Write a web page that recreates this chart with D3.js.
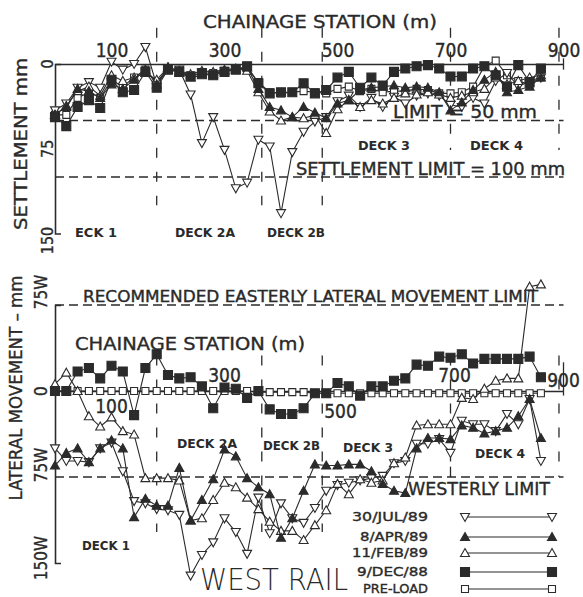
<!DOCTYPE html>
<html><head><meta charset="utf-8">
<script src="https://cdn.jsdelivr.net/npm/d3@7"></script>
<style>
html,body{margin:0;padding:0;background:#fff;}
svg{display:block;}
text{font-family:"DejaVu Sans Condensed","DejaVu Sans",sans-serif;fill:#2a2a2a;font-stretch:condensed;stroke:#2a2a2a;stroke-width:0.35px;}
</style></head><body>
<svg id="c" width="583" height="597"></svg>
<script>
// ---------- DATA ----------
const stations=[0,20,40,60,80,100,120,140,160,180,200,220,240,260,280,300,320,340,360,380,400,420,440,460,480,500,520,540,560,580,600,620,640,660,680,700,720,740,760,780,800,820,840,860];
const seriesNames=["30/JUL/89","8/APR/89","11/FEB/89","9/DEC/88","PRE-LOAD"];
const xTicks=[100,300,500,700,900];
const deckBounds=[180,366,473,700,892];
// settlement (mm, positive = down)
const settleJul89=[41,35,21,16,21,-2,5,0,-15,19,4,5,27,70,47,76,110,105,67,73,132,78,60,51,47,33,28,38,30,38,29,35,28,26,28,36,38,30,35,15,8,20,15,12];
const settleApr89=[45,38,22,24,30,18,22,14,5,18,3,8,12,10,9,6,5,3,22,38,41,47,38,43,48,35,32,23,21,20,19,21,20,21,25,41,34,23,14,7,25,23,20,12];
const settleFeb89=[45,37,24,20,28,10,15,12,8,14,3,6,9,6,7,5,4,6,25,42,50,47,48,45,61,40,32,38,32,35,30,26,27,25,27,30,28,25,22,12,18,15,12,10];
const settleDec88=[47,55,38,32,39,14,25,23,7,21,5,7,11,8,10,7,5,2,17,26,25,25,17,26,23,12,7,21,12,19,7,4,2,1,4,11,11,4,2,10,20,1,16,4];
const settlePre=[45,45,30,25,30,14,20,12,5,16,4,7,10,8,8,6,5,4,16,25,26,25,24,25,26,22,20,24,22,25,24,24,22,23,26,26,25,20,2,-3,10,15,18,12];
// lateral movement (mm, positive = east, negative = west)
const latJul89=[-50,-61,-61,-62,-50,-45,-70,-96,-98,-103,-104,-108,-161,-143,-132,-111,-123,-142,-93,-124,-98,-111,-115,-102,-87,-82,-80,-78,-76,-74,-63,-61,-46,-46,-42,-54,-26,-29,-29,-35,-20,-29,-7,-61];
const latApr89=[-65,-54,-50,-62,-50,-43,-50,-110,-94,-100,-100,-67,-113,-95,-77,-51,-57,-76,-84,-90,-128,-111,-87,-64,-65,-65,-64,-64,-70,-81,-87,-89,-50,-41,-41,-42,-30,-32,-37,-35,-32,-22,-7,-41];
const latFeb89=[6,16,0,-22,-31,-23,-35,-38,-76,-76,-76,-78,-113,-111,-95,-80,-84,-93,-103,-114,-122,-122,-130,-117,-104,-81,-90,-77,-80,-78,-63,-58,-30,-29,-29,-29,-6,-7,2,9,11,11,91,93];
const latDec88=[0,0,17,20,11,22,17,-21,20,32,14,11,12,4,-15,3,2,-6,0,-16,-20,-20,-15,-2,-2,7,4,-4,4,4,9,11,23,22,30,29,32,24,28,28,28,28,30,12];
const latPre=[0,0,0,0,0,0,0,0,0,0,0,0,0,0,0,0,0,0,-1,-1,-1,-1,-1,-2,-2,-2,-2,-2,-2,-2,-2,-2,-2,-2,-2,-2,-2,-2,-2,-2,-2,-2,-2,-2];
const settleLimits=[50,100];
const latLimits=[75,-75];

// ---------- SETUP ----------
const ink="#2b2b2b";
const svg=d3.select("#c");
const x=d3.scaleLinear().domain([0,900]).range([55,563.5]);
const yT=d3.scaleLinear().domain([0,150]).range([64,233.5]);
const yB=d3.scaleLinear().domain([75,-150]).range([305,563]);

const marks=[
  {d:"M-4.5,-3.5L4.5,-3.5L0,4.5Z",fill:"#fff"},   // 30/JUL/89 inverted open triangle
  {d:"M0,-4.5L4.5,3.5L-4.5,3.5Z",fill:ink},      // 8/APR/89 filled triangle
  {d:"M0,-4.5L4.5,3.5L-4.5,3.5Z",fill:"#fff"},   // 11/FEB/89 open triangle
  {d:"M-4.5,-4.5H4.5V4.5H-4.5Z",fill:ink},        // 9/DEC/88 filled square
  {d:"M-3.5,-3.5H3.5V3.5H-3.5Z",fill:"#fff"}      // PRE-LOAD open square
];
const drawOrder=[4,0,2,1,3];

function txt(g,px,py,s,o={}){
  const t=g.append("text").attr("x",px).attr("y",py).text(s)
    .attr("font-size",o.size||14).attr("text-anchor",o.anchor||"start");
  if(o.len) t.attr("textLength",o.len).attr("lengthAdjust","spacingAndGlyphs");
  if(o.bold) t.attr("font-weight","bold");
  if(o.weight) t.attr("font-weight",o.weight);
  if(o.family) t.style("font-family",o.family);
  if(o.nostroke) t.style("stroke","none");
  if(o.rot) t.attr("transform",`rotate(-90,${px},${py})`);
  return t;
}
function dashed(g,x1,y1,x2,y2,da){
  g.append("line").attr("x1",x1).attr("y1",y1).attr("x2",x2).attr("y2",y2)
   .attr("stroke",ink).attr("stroke-width",1.3).attr("stroke-dasharray",da||"9,5");
}
function drawSeries(g,yS,arrs){
  drawOrder.forEach(k=>{
    const pts=stations.map((s,i)=>[x(s),yS(arrs[k][i])]);
    g.append("path").attr("d",d3.line()(pts)).attr("fill","none").attr("stroke",ink).attr("stroke-width",1.1);
    g.selectAll(null).data(pts).join("path")
      .attr("transform",d=>`translate(${d[0]},${d[1]})`)
      .attr("d",marks[k].d).attr("fill",marks[k].fill).attr("stroke",ink).attr("stroke-width",1.1);
  });
}

// ---------- TOP PANEL: SETTLEMENT ----------
const gTop=svg.append("g");
settleLimits.forEach(v=>dashed(gTop,x(0),yT(v),x(900),yT(v)));
deckBounds.forEach((s,i)=>dashed(gTop,x(s),yT(-32),x(s),yT(i<3?125:76),"10,14"));
const axT=gTop.append("g").attr("transform",`translate(0,${yT(0)})`)
  .call(d3.axisTop(x).tickValues(xTicks).tickSize(0).tickSizeOuter(0).tickPadding(7).tickFormat(d3.format("d")));
axT.select(".domain").attr("stroke",ink).attr("stroke-width",1.6);
axT.selectAll("text").attr("font-size",19).attr("fill",ink).style("font-family",'"DejaVu Sans Condensed","DejaVu Sans",sans-serif');
const axTL=gTop.append("g").attr("transform",`translate(${x(0)},0)`)
  .call(d3.axisLeft(yT).tickValues([]).tickSizeOuter(-6));
axTL.select(".domain").attr("stroke",ink).attr("stroke-width",1.6);
gTop.append("line").attr("x1",x(900)).attr("x2",x(900)).attr("y1",yT(-5)).attr("y2",yT(5)).attr("stroke",ink).attr("stroke-width",1.3);
drawSeries(gTop,yT,[settleJul89,settleApr89,settleFeb89,settleDec88,settlePre]);
[[0,0],[75,0],[150,7]].forEach(([v,off])=>txt(gTop,53,yT(v)+off,String(v),{size:16,anchor:"middle",rot:true}));
txt(gTop,27,144,"SETTLEMENT  mm",{size:18,anchor:"middle",rot:true,len:172});
txt(gTop,203,28,"CHAINAGE STATION (m)",{size:18,len:234});
txt(gTop,393,118,"LIMIT = 50 mm",{size:18,len:144});
txt(gTop,296,175,"SETTLEMENT LIMIT = 100 mm",{size:18,len:269});
txt(gTop,75,237,"ECK 1",{size:13,bold:true,len:42,nostroke:true});
txt(gTop,175,237,"DECK 2A",{size:13,bold:true,len:60,nostroke:true});
txt(gTop,267,237,"DECK 2B",{size:13,bold:true,len:58,nostroke:true});
txt(gTop,358,150,"DECK 3",{size:13,bold:true,len:52,nostroke:true});
txt(gTop,470,150,"DECK 4",{size:13,bold:true,len:53,nostroke:true});

// ---------- BOTTOM PANEL: LATERAL MOVEMENT ----------
const gBot=svg.append("g");
latLimits.forEach(v=>dashed(gBot,x(0),yB(v),x(900),yB(v)));
deckBounds.forEach((s,i)=>dashed(gBot,x(s),yB(31),x(s),yB(i<3?-123:-75),"10,14"));
gBot.append("line").attr("x1",x(700)).attr("x2",x(700)).attr("y1",yB(-66)).attr("y2",yB(-75)).attr("stroke",ink).attr("stroke-width",1.3);
const axB0=gBot.append("g").attr("transform",`translate(0,${yB(0)})`)
  .call(d3.axisBottom(x).tickValues([]).tickSizeOuter(0));
axB0.select(".domain").attr("stroke",ink).attr("stroke-width",1.6);
const axBL=gBot.append("g").attr("transform",`translate(${x(0)},0)`)
  .call(d3.axisLeft(yB).tickValues([]).tickSizeOuter(-6));
axBL.select(".domain").attr("stroke",ink).attr("stroke-width",1.6);
gBot.append("line").attr("x1",x(900)).attr("x2",x(900)).attr("y1",yB(25)).attr("y2",yB(-4)).attr("stroke",ink).attr("stroke-width",1.3);
drawSeries(gBot,yB,[latJul89,latApr89,latFeb89,latDec88,latPre]);
const botTickOffset={100:22,300:-9,500:27,700:-9,900:-4};
xTicks.forEach(t=>txt(gBot,x(t)+(t===500?3:t===700?4:0),yB(0)+botTickOffset[t],String(t),{size:19,anchor:"middle"}));
[[75,"75W",-13],[0,"0",0],[-75,"75W",-12],[-150,"150W",-5]].forEach(([v,s,off])=>txt(gBot,47,yB(v)+off,s,{size:17,anchor:"middle",rot:true}));
txt(gBot,22,388,"LATERAL MOVEMENT \u2013 mm",{size:18,anchor:"middle",rot:true,len:225});
txt(gBot,83,302,"RECOMMENDED EASTERLY LATERAL MOVEMENT LIMIT",{size:15,len:455});
txt(gBot,75,350,"CHAINAGE STATION (m)",{size:18,len:230});
txt(gBot,82,550,"DECK 1",{size:13,bold:true,len:48,nostroke:true});
txt(gBot,177,448,"DECK 2A",{size:13,bold:true,len:60,nostroke:true});
txt(gBot,263,450,"DECK 2B",{size:13,bold:true,len:57,nostroke:true});
txt(gBot,343,452,"DECK 3",{size:13,bold:true,len:50,nostroke:true});
txt(gBot,475,458,"DECK 4",{size:13,bold:true,len:50,nostroke:true});
txt(gBot,408,495,"WESTERLY LIMIT",{size:18,len:142});

// ---------- LEGEND ----------
const leg=svg.append("g");
const legY=[517,537,553,572,589];
const legLen=[76,68,76,71,65];
seriesNames.forEach((n,k)=>{
  txt(leg,428,legY[k]+4,n,{size:13,anchor:"end",len:legLen[k]});
  leg.append("line").attr("x1",465).attr("x2",552).attr("y1",legY[k]).attr("y2",legY[k]).attr("stroke",ink).attr("stroke-width",1.1);
  [465,552].forEach(px=>leg.append("path").attr("transform",`translate(${px},${legY[k]})`)
     .attr("d",marks[k].d).attr("fill",marks[k].fill).attr("stroke",ink).attr("stroke-width",1.1));
});
txt(svg,200,590,"WEST RAIL",{size:30,weight:200,len:148,family:'"DejaVu Sans","Roboto",sans-serif',nostroke:true});
</script>
</body></html>
